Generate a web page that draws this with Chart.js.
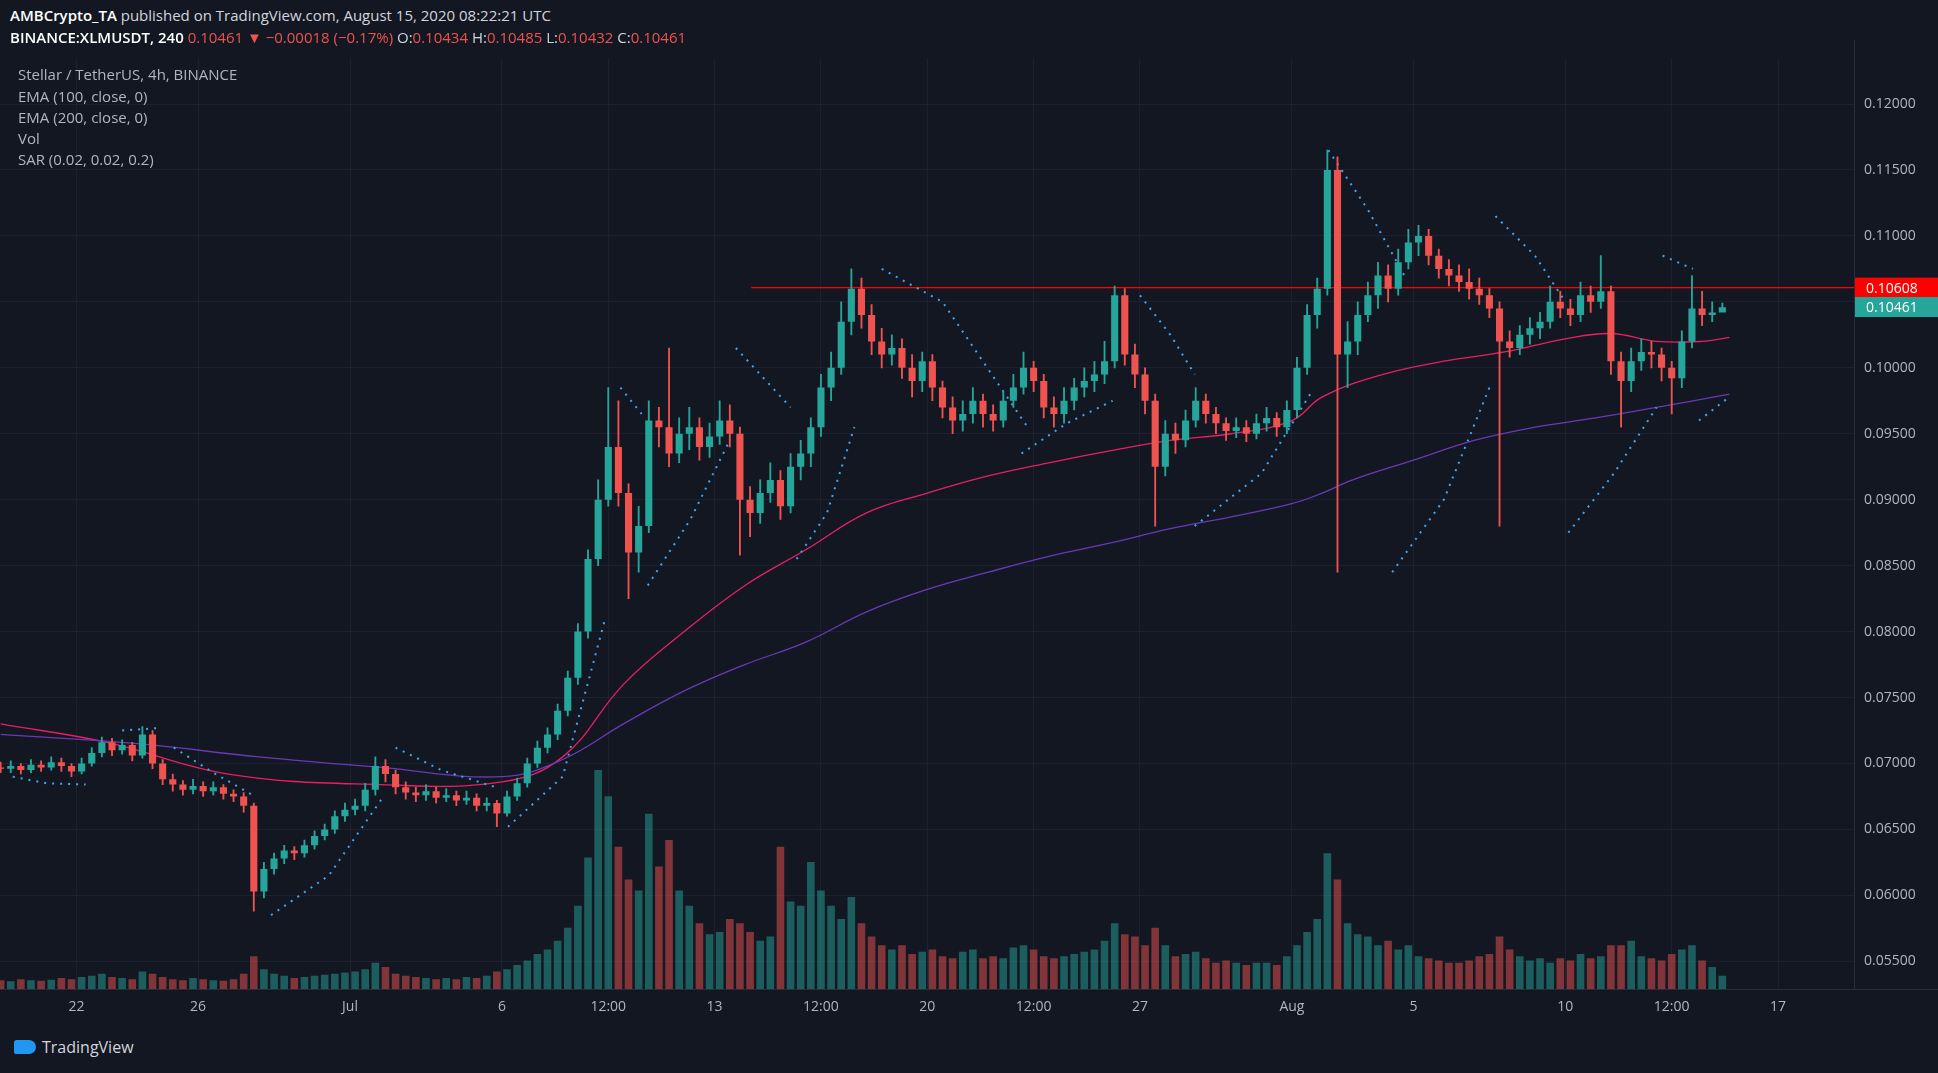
<!DOCTYPE html>
<html>
<head>
<meta charset="utf-8">
<script src="https://cdn.jsdelivr.net/npm/chart.js@4.4.1/dist/chart.umd.min.js"></script>
<style>
  html, body { margin: 0; padding: 0; background: #131722; width: 1938px; height: 1073px; overflow: hidden; font-family: "Open Sans", "Noto Sans", sans-serif; }
  .hdr { position: absolute; left: 10px; color: #d1d4dc; font-size: 15px; white-space: nowrap; z-index: 2; }
  .hdr b { font-weight: 600; color: #fff; }
  .red { color: #ef5350; }
  .leg { position: absolute; left: 18px; color: #b2b5be; font-size: 15px; white-space: nowrap; }
  #wrap { position: absolute; left: 0; top: 40px; width: 1938px; height: 986px; }
  #foot { position: absolute; left: 14px; top: 1036px; color: #d1d4dc; font-size: 16px; display: flex; align-items: center; gap: 6px; }
  #foot i { display: inline-block; width: 22px; height: 14px; background: #2196f3; border-radius: 3px 8px 8px 3px; }
</style>
</head>
<body>
<div id="wrap"><canvas id="chart"></canvas></div>
<div class="hdr" style="top:5px"><b>AMBCrypto_TA</b> published on TradingView.com, August 15, 2020 08:22:21 UTC</div>
<div class="hdr" style="top:27px"><b>BINANCE:XLMUSDT, 240</b> <span class="red">0.10461 ▼ −0.00018 (−0.17%)</span> O:<span class="red">0.10434</span> H:<span class="red">0.10485</span> L:<span class="red">0.10432</span> C:<span class="red">0.10461</span></div>
<div class="leg" style="top:64px">Stellar / TetherUS, 4h, BINANCE</div>
<div class="leg" style="top:86px">EMA (100, close, 0)</div>
<div class="leg" style="top:107px">EMA (200, close, 0)</div>
<div class="leg" style="top:128px">Vol</div>
<div class="leg" style="top:149px">SAR (0.02, 0.02, 0.2)</div>
<div id="foot"><i></i>TradingView</div>
<script>
// ── 데이터 (x = days since Jun 22, candles every 8h from Jun 19 12:00) ──
var startDay = -2.5;
var firstOpen = 0.0697;
var closes = [
  0.0696,0.0698,0.0695,0.0699,0.0697,0.0701,0.0698,0.0694,0.0700,0.0708,0.0716,0.0710,0.0714,0.0706,0.0722,0.0700,0.0688,0.0684,0.0680,0.0683,
  0.0679,0.0682,0.0677,0.0675,0.0668,0.0603,0.0620,0.0628,0.0634,0.0632,0.0638,0.0645,0.0650,0.0660,0.0665,0.0668,0.0680,0.0698,0.0692,0.0682,
  0.0678,0.0676,0.0679,0.0674,0.0676,0.0672,0.0674,0.0668,0.0670,0.0662,0.0675,0.0685,0.0700,0.0712,0.0722,0.0740,0.0765,0.0800,0.0855,0.0900,
  0.0940,0.0905,0.0860,0.0880,0.0960,0.0955,0.0935,0.0950,0.0955,0.0940,0.0948,0.0960,0.0950,0.0900,0.0890,0.0905,0.0915,0.0895,0.0925,0.0935,
  0.0955,0.0985,0.1000,0.1035,0.1060,0.1040,0.1020,0.1010,0.1015,0.1000,0.0990,0.1005,0.0985,0.0970,0.0960,0.0965,0.0975,0.0965,0.0960,0.0975,
  0.0985,0.1000,0.0990,0.0970,0.0965,0.0975,0.0985,0.0990,0.0995,0.1005,0.1055,0.1010,0.0995,0.0975,0.0925,0.0950,0.0945,0.0960,0.0975,0.0965,
  0.0958,0.0952,0.0955,0.0950,0.0958,0.0962,0.0955,0.0968,0.1000,0.1040,0.1060,0.1150,0.1010,0.1020,0.1040,0.1055,0.1070,0.1060,0.1080,0.1095,
  0.1100,0.1085,0.1075,0.1070,0.1065,0.1060,0.1055,0.1045,0.1020,0.1015,0.1025,0.1030,0.1035,0.1050,0.1045,0.1040,0.1055,0.1050,0.1058,0.1005,
  0.0990,0.1005,0.1012,0.1010,0.1000,0.0992,0.1020,0.1045,0.1040,0.1042,0.1046
];
var highs = [
  0.0701,0.0702,0.0700,0.0703,0.0702,0.0705,0.0704,0.0700,0.0704,0.0712,0.0720,0.0719,0.0718,0.0716,0.0728,0.0725,0.0703,0.0692,0.0687,0.0688,
  0.0686,0.0686,0.0684,0.0680,0.0678,0.0670,0.0625,0.0632,0.0638,0.0637,0.0642,0.0649,0.0654,0.0664,0.0670,0.0673,0.0685,0.0705,0.0703,0.0695,
  0.0686,0.0682,0.0684,0.0682,0.0681,0.0679,0.0679,0.0677,0.0674,0.0672,0.0679,0.0689,0.0704,0.0717,0.0727,0.0745,0.0770,0.0806,0.0862,0.0915,
  0.0985,0.0975,0.0912,0.0895,0.0975,0.0970,0.1015,0.0962,0.0970,0.0962,0.0958,0.0975,0.0972,0.0955,0.0910,0.0915,0.0928,0.0922,0.0935,0.0945,
  0.0962,0.0995,0.1012,0.1050,0.1075,0.1068,0.1048,0.1030,0.1025,0.1022,0.1010,0.1012,0.1010,0.0990,0.0978,0.0975,0.0985,0.0980,0.0972,0.0982,
  0.0995,0.1012,0.1005,0.0995,0.0978,0.0985,0.0992,0.1000,0.1005,0.1020,0.1062,0.1060,0.1018,0.1000,0.0980,0.0960,0.0958,0.0968,0.0985,0.0980,
  0.0970,0.0962,0.0962,0.0960,0.0965,0.0970,0.0966,0.0975,0.1008,0.1048,0.1068,0.1165,0.1160,0.1035,0.1050,0.1065,0.1080,0.1078,0.1090,0.1105,
  0.1108,0.1105,0.1090,0.1082,0.1078,0.1075,0.1068,0.1060,0.1050,0.1028,0.1032,0.1038,0.1042,0.1062,0.1058,0.1052,0.1065,0.1062,0.1085,0.1062,
  0.1012,0.1015,0.1022,0.1020,0.1015,0.1005,0.1028,0.1070,0.1058,0.1050,0.1049
];
var lows = [
  0.0693,0.0693,0.0692,0.0693,0.0694,0.0695,0.0694,0.0690,0.0692,0.0698,0.0705,0.0706,0.0707,0.0702,0.0704,0.0696,0.0684,0.0679,0.0676,0.0677,
  0.0675,0.0676,0.0673,0.0671,0.0663,0.0588,0.0598,0.0616,0.0624,0.0627,0.0629,0.0635,0.0642,0.0647,0.0656,0.0661,0.0664,0.0676,0.0686,0.0677,
  0.0673,0.0671,0.0672,0.0670,0.0671,0.0668,0.0669,0.0664,0.0664,0.0652,0.0660,0.0672,0.0682,0.0697,0.0708,0.0718,0.0736,0.0760,0.0795,0.0850,
  0.0895,0.0895,0.0825,0.0845,0.0875,0.0940,0.0925,0.0928,0.0938,0.0930,0.0932,0.0942,0.0940,0.0858,0.0872,0.0882,0.0898,0.0885,0.0890,0.0915,
  0.0925,0.0948,0.0975,0.0995,0.1025,0.1030,0.1010,0.1000,0.1002,0.0992,0.0978,0.0982,0.0975,0.0962,0.0950,0.0952,0.0958,0.0955,0.0952,0.0955,
  0.0970,0.0980,0.0982,0.0962,0.0955,0.0958,0.0968,0.0978,0.0982,0.0988,0.1000,0.1002,0.0985,0.0965,0.0880,0.0918,0.0935,0.0940,0.0955,0.0958,
  0.0950,0.0945,0.0947,0.0944,0.0946,0.0952,0.0948,0.0950,0.0962,0.0995,0.1030,0.1055,0.0845,0.0985,0.1010,0.1035,0.1045,0.1050,0.1055,0.1075,
  0.1085,0.1078,0.1068,0.1062,0.1058,0.1052,0.1048,0.1038,0.0880,0.1008,0.1010,0.1018,0.1022,0.1030,0.1038,0.1032,0.1035,0.1042,0.1045,0.0995,
  0.0955,0.0982,0.0998,0.1000,0.0990,0.0965,0.0985,0.1015,0.1032,0.1035,0.1043
];
var volumes = [
  40,35,45,40,38,42,50,45,55,60,70,55,50,45,80,70,55,45,40,50,45,40,38,45,70,
  150,90,70,60,50,55,60,65,70,75,80,90,120,100,70,60,55,50,45,50,45,55,50,60,80,
  90,110,130,160,180,220,280,380,600,1000,880,650,500,450,800,560,680,450,380,300,250,260,320,300,260,
  220,240,650,400,380,580,450,380,320,420,300,240,200,180,200,160,170,180,150,140,170,180,140,150,140,
  190,200,180,150,140,150,160,170,180,220,300,250,240,200,280,200,150,160,170,140,120,130,120,110,120,
  120,110,150,200,260,320,620,500,300,250,240,200,220,180,200,150,140,130,120,120,130,150,160,240,180,
  150,130,140,120,140,130,160,140,150,200,200,220,150,140,130,160,180,200,130,100,60
];
var ema100 = [[-2.5,0.0730],[1,0.0716],[5,0.0692],[10,0.0684],[14,0.0686],[16,0.0705],[18,0.0760],[20,0.0800],[22,0.0835],[24,0.0862],[26,0.0890],[28,0.0905],[30,0.0918],[32,0.0928],[34,0.0937],[36,0.0945],[38,0.0950],[40,0.0960],[41,0.0978],[43,0.0995],[45,0.1005],[47,0.1012],[49,0.1022],[50.5,0.1026],[52,0.1020],[53.5,0.1020],[54.4,0.1023]];
var ema200 = [[-2.5,0.0722],[2,0.0715],[6,0.0705],[10,0.0697],[14,0.0690],[16,0.0703],[18,0.0730],[20,0.0755],[22,0.0775],[24,0.0792],[26,0.0815],[28,0.0832],[30,0.0845],[32,0.0857],[34,0.0867],[36,0.0878],[38,0.0887],[40,0.0897],[41,0.0905],[42,0.0915],[44,0.0930],[46,0.0945],[48,0.0955],[50,0.0962],[52,0.0970],[54.4,0.0980]];
var sarSegments = [
  [[-2.1,0.0690],[-1,0.0685],[0.3,0.0684]],
  [[1.5,0.0725],[2.8,0.0727]],
  [[3.2,0.0712],[4.5,0.0693],[5.8,0.0676]],
  [[6.4,0.0585],[8.3,0.0615],[10.1,0.0675]],
  [[10.5,0.0712],[12,0.0695],[13.8,0.0682]],
  [[14.2,0.0652],[16,0.0690],[17.4,0.0810]],
  [[17.9,0.0985],[18.6,0.0965]],
  [[18.8,0.0835],[20.2,0.0885],[21.5,0.0945]],
  [[21.7,0.1015],[23.5,0.0970]],
  [[23.7,0.0855],[24.7,0.0890],[25.6,0.0955]],
  [[26.5,0.1075],[28.5,0.1050],[31.3,0.0955]],
  [[31.1,0.0935],[32.6,0.0958],[34.1,0.0975]],
  [[35.0,0.1055],[36,0.1025],[36.8,0.0995]],
  [[36.8,0.0880],[39,0.0920],[40.6,0.0980]],
  [[41.2,0.1165],[42.5,0.1120],[43.7,0.1070]],
  [[43.3,0.0845],[45,0.0900],[46.5,0.0985]],
  [[46.7,0.1115],[48,0.1085],[49.0,0.1050]],
  [[49.1,0.0875],[50.6,0.0920],[52.0,0.0970]],
  [[52.2,0.1085],[53.2,0.1075]],
  [[53.4,0.0960],[54.4,0.0978]]
];
var resistance = 0.10608;
var lastPrice = 0.10461;
var yTicks = [0.055,0.06,0.065,0.07,0.075,0.08,0.085,0.09,0.095,0.1,0.105,0.11,0.115,0.12];
var xTicks = [0, 4, 9, 14, 17.5, 21, 24.5, 28, 31.5, 35, 40, 44, 49, 52.5, 56];
var xLabels = ['22','26','Jul','6','12:00','13','12:00','20','12:00','27','Aug','5','10','12:00','17'];

var UP = '#26a69a', DN = '#ef5350';

// ── 캔들 데이터 구성 ──
var wickData = [], bodyData = [], volData = [], candleColors = [], volColors = [];
for (var i = 0; i < closes.length; i++) {
  var x = startDay + i / 3;
  var o = i === 0 ? firstOpen : closes[i - 1];
  var c = closes[i];
  var up = c >= o;
  var lo = Math.min(o, c), hi = Math.max(o, c);
  wickData.push({ x: x, y: [lows[i], highs[i]] });
  bodyData.push({ x: x, y: [lo, hi === lo ? hi + 0.00005 : hi] });
  volData.push({ x: x, y: volumes[i] });
  candleColors.push(up ? UP : DN);
  volColors.push(up ? 'rgba(38,166,154,0.5)' : 'rgba(239,83,80,0.5)');
}
function pts(arr) { return arr.map(function(p) { return { x: p[0], y: p[1] }; }); }
var sarData = [];
sarSegments.forEach(function(seg) { sarData = sarData.concat(pts(seg)); sarData.push({ x: seg[seg.length - 1][0], y: null }); });

// ── 가격 라벨 플러그인 ──
var labelPlugin = {
  id: 'labels',
  afterDraw: function(chart) {
    var ctx = chart.ctx, ys = chart.scales.y, area = chart.chartArea;
    ctx.save();
    ctx.strokeStyle = '#2a2e39'; ctx.lineWidth = 1;
    ctx.beginPath(); ctx.moveTo(area.right + 0.5, 0); ctx.lineTo(area.right + 0.5, area.bottom);
    ctx.moveTo(0, area.bottom + 0.5); ctx.lineTo(chart.width, area.bottom + 0.5); ctx.stroke();
    [[resistance, '#ff0000'], [lastPrice, UP]].forEach(function(l) {
      var y = ys.getPixelForValue(l[0]);
      ctx.fillStyle = l[1];
      ctx.fillRect(area.right + 1, y - 10, 83, 20);
      ctx.fillStyle = '#ffffff';
      ctx.font = '14px "Open Sans", sans-serif';
      ctx.textBaseline = 'middle';
      ctx.fillText(l[0].toFixed(5), area.right + 12, y + 1);
    });
    ctx.restore();
  }
};

var ctx = document.getElementById('chart').getContext('2d');
new Chart(ctx, {
  data: {
    datasets: [
      { type: 'bar', data: volData, yAxisID: 'yv', backgroundColor: volColors, barPercentage: 0.75, categoryPercentage: 1, grouped: false, order: 10 },
      { type: 'line', data: pts(ema200), borderColor: '#673ab7', borderWidth: 1.3, pointRadius: 0, tension: 0.4, order: 5 },
      { type: 'line', data: pts(ema100), borderColor: '#e91e63', borderWidth: 1.3, pointRadius: 0, tension: 0.4, order: 5 },
      { type: 'line', data: [{ x: 22.2, y: resistance }, { x: 58.6, y: resistance }], borderColor: '#ff0000', borderWidth: 1.3, pointRadius: 0, order: 4 },
      { type: 'line', data: sarData, borderColor: '#42a5f5', borderWidth: 2, borderDash: [2, 6], pointRadius: 0, spanGaps: false, order: 3 },
      { type: 'bar', data: wickData, backgroundColor: candleColors, barThickness: 1.2, grouped: false, order: 2 },
      { type: 'bar', data: bodyData, backgroundColor: candleColors, barPercentage: 0.7, categoryPercentage: 1, grouped: false, order: 1 }
    ]
  },
  options: {
    responsive: true,
    maintainAspectRatio: false,
    animation: false,
    layout: { padding: 0 },
    plugins: { legend: { display: false }, tooltip: { enabled: false } },
    scales: {
      x: {
        type: 'linear', min: -2.52, max: 58.5, offset: false,
        afterBuildTicks: function(s) { s.ticks = xTicks.map(function(v) { return { value: v }; }); },
        afterFit: function(s) { s.height = 37; },
        grid: { color: '#1c2030', drawTicks: false, offset: false },
        border: { display: false },
        ticks: { color: '#b2b5be', font: { size: 14, family: 'Open Sans' }, maxRotation: 0, autoSkip: false, padding: 10,
          callback: function(v) { var k = xTicks.indexOf(v); return k >= 0 ? xLabels[k] : ''; } }
      },
      y: {
        position: 'right', min: 0.0529, max: 0.12346,
        afterBuildTicks: function(s) { s.ticks = yTicks.map(function(v) { return { value: v }; }); },
        afterFit: function(s) { s.width = 84; },
        grid: { color: '#1c2030', drawTicks: false },
        border: { display: false },
        ticks: { color: '#b2b5be', font: { size: 14, family: 'Open Sans' }, padding: 10,
          callback: function(v) { return v.toFixed(5); } }
      },
      yv: { display: false, min: 0, max: 4250 }
    }
  },
  plugins: [labelPlugin]
});
</script>
</body>
</html>
